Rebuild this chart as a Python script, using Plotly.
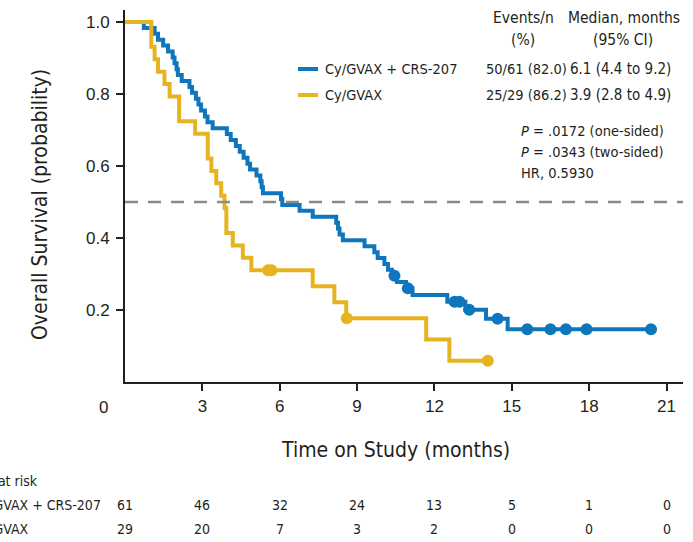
import plotly.graph_objects as go

# ---------------- data ----------------
blue_name = "Cy/GVAX + CRS-207"
yellow_name = "Cy/GVAX"

blue_event_times = [0.73, 1.15, 1.28, 1.48, 1.67, 1.85, 1.92, 2.0, 2.05, 2.2, 2.5, 2.6, 2.75, 2.85, 2.95,
                    3.1, 3.2, 3.4, 3.95, 4.1, 4.3, 4.45, 4.6, 4.75, 4.85, 5.1, 5.25, 5.3, 5.35,
                    6.05, 6.1, 6.77, 7.28, 8.19, 8.26, 8.32, 8.45,
                    9.29, 9.67, 9.8, 10.06, 10.2, 10.35, 10.55, 10.9, 11.15,
                    12.5, 13.2, 14.0, 14.84]
blue_censor_times = [10.45, 10.97, 12.78, 12.97, 13.35, 14.45, 15.6, 16.5, 17.1, 17.9, 20.4]

yellow_event_times = [1.02, 1.02, 1.15, 1.28, 1.53, 1.73, 2.1, 2.1, 2.72,
                      3.21, 3.21, 3.35, 3.54, 3.73, 3.86, 3.93, 3.93, 4.18, 4.57, 4.9,
                      7.28, 8.12, 8.58, 11.68, 12.58]
yellow_censor_times = [5.55, 5.68, 8.6, 14.07]

x_ticks = [3, 6, 9, 12, 15, 18, 21]
y_ticks = [0.2, 0.4, 0.6, 0.8, 1.0]
y_tick_labels = ["0.2", "0.4", "0.6", "0.8", "1.0"]

risk_times = [0, 3, 6, 9, 12, 15, 18, 21]
risk_blue = [61, 46, 32, 24, 13, 5, 1, 0]
risk_yellow = [29, 20, 7, 3, 2, 0, 0, 0]

table_rows = [
    ["Cy/GVAX + CRS-207", "50/61 (82.0)", "6.1 (4.4 to 9.2)"],
    ["Cy/GVAX", "25/29 (86.2)", "3.9 (2.8 to 4.9)"],
]
stats_lines = ["<i>P</i> = .0172 (one-sided)", "<i>P</i> = .0343 (two-sided)", "HR, 0.5930"]

BLUE = "#0e76bd"
YELLOW = "#e6b420"
TEXT = "#231f20"
NARROW = "DejaVu Sans Condensed, Liberation Sans Narrow, Arial Narrow, sans-serif"
REG = "Liberation Sans, Arial, sans-serif"


def km(events, censors):
    times = sorted(set(events) | set(censors))
    n = len(events) + len(censors)
    s = 1.0
    xs, ys = [0.0], [1.0]
    cx, cy = [], []
    for t in times:
        d = events.count(t)
        c = censors.count(t)
        if d:
            s = s * (n - d) / n
            xs.append(t)
            ys.append(s)
        if c:
            cx.append(t)
            cy.append(s)
        n -= d + c
    xs.append(times[-1])
    ys.append(s)
    return xs, ys, cx, cy


fig = go.Figure()

for name, ev, ce, col in [(blue_name, blue_event_times, blue_censor_times, BLUE),
                          (yellow_name, yellow_event_times, yellow_censor_times, YELLOW)]:
    xs, ys, cx, cy = km(ev, ce)
    fig.add_trace(go.Scatter(x=xs, y=ys, mode="lines", line=dict(color=col, width=4, shape="hv"),
                             name=name, showlegend=False, hoverinfo="skip"))
    fig.add_trace(go.Scatter(x=cx, y=cy, mode="markers", marker=dict(color=col, size=12),
                             showlegend=False, hoverinfo="skip"))

# median reference line
fig.add_hline(y=0.5, line=dict(color="#8a8a8a", width=2.5, dash="13px,10px"))

W, H = 693, 542
L, R, T, B = 125, 10, 10, 160
pw, ph = W - L - R, H - T - B


def px(x):
    return (x - L) / pw


def py(y):
    return (H - B - y) / ph


def note(text, x, y, font, xanchor="center", **kw):
    return dict(text=text, x=px(x), y=py(y), xref="paper", yref="paper", xanchor=xanchor,
                yanchor="middle", showarrow=False, font=font, **kw)


ann = []
# axis titles
ann.append(note("Time on Study (months)", 395, 450, dict(family=NARROW, size=21, color=TEXT)))
ann.append(note("Overall Survival (probability)", 40, 205, dict(family=NARROW, size=21, color=TEXT),
                textangle=-90))
ann.append(note("0", 103, 407, dict(family=REG, size=17, color=TEXT)))

# legend/table header
hdr_font = dict(family=NARROW, size=15.5, color=TEXT)
ann.append(note("Events/n", 523, 18, hdr_font))
ann.append(note("(%)", 523, 40, hdr_font))
ann.append(note("Median, months", 624, 18, hdr_font))
ann.append(note("(95% CI)", 623, 40, hdr_font))

shapes = [dict(type="line", xref="paper", yref="paper", x0=px(293), x1=px(678), y0=py(55), y1=py(55),
               line=dict(color="#333333", width=1.5))]
row_font = dict(family=NARROW, size=14.5, color=TEXT)
for i, (row, col) in enumerate(zip(table_rows, [BLUE, YELLOW])):
    yy = 69 + 26 * i
    shapes.append(dict(type="line", xref="paper", yref="paper", x0=px(298), x1=px(318), y0=py(yy), y1=py(yy),
                       line=dict(color=col, width=4)))
    ann.append(note(row[0], 323, yy, row_font, xanchor="left"))
    ann.append(note(row[1], 484, yy, row_font, xanchor="left"))
    ann.append(note(row[2], 568, yy, dict(family=NARROW, size=15, color=TEXT), xanchor="left"))

for i, s in enumerate(stats_lines):
    ann.append(note(s, 519, 131 + 21 * i, row_font, xanchor="left"))

# at-risk table
risk_font = dict(family=NARROW, size=14, color=TEXT)
ann.append(note("No. at risk", -29, 481, risk_font, xanchor="left"))
ann.append(note(blue_name, -29, 505, risk_font, xanchor="left"))
ann.append(note(yellow_name, -29, 529, risk_font, xanchor="left"))
for t, a, b in zip(risk_times, risk_blue, risk_yellow):
    ann.append(dict(text=str(a), x=t, y=py(505), xref="x", yref="paper", xanchor="center",
                    yanchor="middle", showarrow=False, font=risk_font))
    ann.append(dict(text=str(b), x=t, y=py(529), xref="x", yref="paper", xanchor="center",
                    yanchor="middle", showarrow=False, font=risk_font))

fig.update_layout(
    width=W, height=H,
    margin=dict(l=L, r=R, t=T, b=B),
    plot_bgcolor="white", paper_bgcolor="white",
    annotations=ann, shapes=shapes,
    showlegend=False,
)
fig.update_xaxes(range=[0, 21.64], tickvals=x_ticks, ticks="outside", ticklen=7, tickwidth=2,
                 tickcolor="#231f20", showline=True, linecolor="#231f20", linewidth=2,
                 showgrid=False, zeroline=False, ticklabelstandoff=1,
                 tickfont=dict(family=REG, size=17, color=TEXT))
fig.update_yaxes(range=[0, 1.0333], tickvals=y_ticks, ticktext=y_tick_labels, ticks="outside", ticklen=7,
                 tickwidth=2, tickcolor="#231f20", showline=True, linecolor="#231f20", linewidth=2,
                 showgrid=False, zeroline=False, ticklabelstandoff=3,
                 tickfont=dict(family=REG, size=17, color=TEXT))

fig.write_html("out.html", config={"displayModeBar": False},
               post_script="document.body.style.margin='0';document.body.style.overflow='hidden';")
